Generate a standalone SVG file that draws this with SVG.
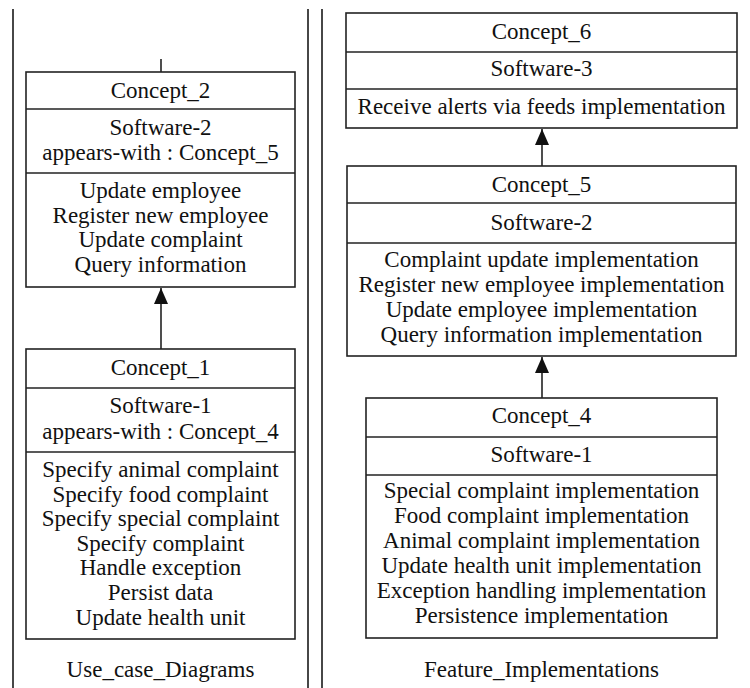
<svg xmlns="http://www.w3.org/2000/svg" width="750" height="688" viewBox="0 0 750 688">
<defs>
<style>
.box{fill:#fff;stroke:#222;stroke-width:1.6}
.div{stroke:#222;stroke-width:1.6}
.frame{stroke:#333;stroke-width:1.8}
text{font-family:"Liberation Serif","Times New Roman",serif;font-size:23px;fill:#111;text-anchor:middle}
.edge{stroke:#222;stroke-width:1.6;fill:none}
</style>
<marker id="arr" markerWidth="16" markerHeight="14" refX="16" refY="7" orient="auto" markerUnits="userSpaceOnUse">
<path d="M0,0 L16,7 L0,14 Z" fill="#111"/>
</marker>
</defs>
<rect width="750" height="688" fill="#fff"/>
<g id="frames">
<line class="frame" x1="13" y1="9" x2="13" y2="688"/>
<line class="frame" x1="308" y1="9" x2="308" y2="688"/>
<line class="frame" x1="322" y1="9" x2="322" y2="688"/>
</g>
<g id="connectors">
<line class="edge" x1="161" y1="59" x2="161" y2="72"/>
<line class="edge" x1="161" y1="349" x2="161" y2="288" marker-end="url(#arr)"/>
<line class="edge" x1="542" y1="166" x2="542" y2="129" marker-end="url(#arr)"/>
<line class="edge" x1="542" y1="398" x2="542" y2="357" marker-end="url(#arr)"/>
</g>
<g id="concept2">
<rect class="box" x="26" y="72" width="269" height="215"/>
<line class="div" x1="26" y1="109" x2="295" y2="109"/>
<line class="div" x1="26" y1="173" x2="295" y2="173"/>
<text x="160.5" y="98">Concept_2</text>
<text x="160.5" y="135">Software-2</text>
<text x="160.5" y="160">appears-with : Concept_5</text>
<text x="160.5" y="198">Update employee</text>
<text x="160.5" y="223">Register new employee</text>
<text x="160.5" y="247">Update complaint</text>
<text x="160.5" y="272">Query information</text>
</g>
<g id="concept1">
<rect class="box" x="26" y="349" width="269" height="290"/>
<line class="div" x1="26" y1="388" x2="295" y2="388"/>
<line class="div" x1="26" y1="452" x2="295" y2="452"/>
<text x="160.5" y="375">Concept_1</text>
<text x="160.5" y="413">Software-1</text>
<text x="160.5" y="439">appears-with : Concept_4</text>
<text x="160.5" y="477">Specify animal complaint</text>
<text x="160.5" y="502">Specify food complaint</text>
<text x="160.5" y="526">Specify special complaint</text>
<text x="160.5" y="551">Specify complaint</text>
<text x="160.5" y="575">Handle exception</text>
<text x="160.5" y="600">Persist data</text>
<text x="160.5" y="625">Update health unit</text>
</g>
<g id="label-left">
<text x="160.5" y="677">Use_case_Diagrams</text>
</g>
<g id="concept6">
<rect class="box" x="346" y="13" width="391" height="115"/>
<line class="div" x1="346" y1="52" x2="737" y2="52"/>
<line class="div" x1="346" y1="89" x2="737" y2="89"/>
<text x="541.5" y="39">Concept_6</text>
<text x="541.5" y="76">Software-3</text>
<text x="541.5" y="114">Receive alerts via feeds implementation</text>
</g>
<g id="concept5">
<rect class="box" x="347" y="166" width="389" height="190"/>
<line class="div" x1="347" y1="203" x2="736" y2="203"/>
<line class="div" x1="347" y1="243" x2="736" y2="243"/>
<text x="541.5" y="192">Concept_5</text>
<text x="541.5" y="230">Software-2</text>
<text x="541.5" y="267">Complaint update implementation</text>
<text x="541.5" y="292">Register new employee implementation</text>
<text x="541.5" y="317">Update employee implementation</text>
<text x="541.5" y="342">Query information implementation</text>
</g>
<g id="concept4">
<rect class="box" x="366" y="398" width="351" height="240"/>
<line class="div" x1="366" y1="437" x2="717" y2="437"/>
<line class="div" x1="366" y1="475" x2="717" y2="475"/>
<text x="541.5" y="423">Concept_4</text>
<text x="541.5" y="462">Software-1</text>
<text x="541.5" y="498">Special complaint implementation</text>
<text x="541.5" y="523">Food complaint implementation</text>
<text x="541.5" y="548">Animal complaint implementation</text>
<text x="541.5" y="573">Update health unit implementation</text>
<text x="541.5" y="598">Exception handling implementation</text>
<text x="541.5" y="623">Persistence implementation</text>
</g>
<g id="label-right">
<text x="541.5" y="677">Feature_Implementations</text>
</g>
</svg>
